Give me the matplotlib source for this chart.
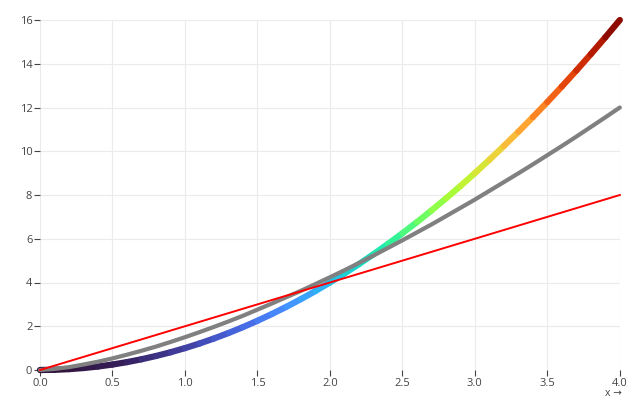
import matplotlib
import numpy as np

matplotlib.use("Agg")

import matplotlib.pyplot as plt
from matplotlib.collections import LineCollection

plt.rcParams["font.family"] = ["Open Sans", "DejaVu Sans"]

# values, x step 0.1
x_vals = [round(0.1 * i, 1) for i in range(41)]
curve_vals = [
    0.00, 0.01, 0.04, 0.09, 0.16, 0.25, 0.36, 0.49, 0.64, 0.81,
    1.00, 1.21, 1.44, 1.69, 1.96, 2.25, 2.56, 2.89, 3.24, 3.61,
    4.00, 4.41, 4.84, 5.29, 5.76, 6.25, 6.76, 7.29, 7.84, 8.41,
    9.00, 9.61, 10.24, 10.89, 11.56, 12.25, 12.96, 13.69, 14.44, 15.21,
    16.00,
]
gray_vals = [
    0.00, 0.05, 0.13, 0.25, 0.38, 0.53, 0.70, 0.88, 1.07, 1.28,
    1.50, 1.73, 1.97, 2.22, 2.48, 2.76, 3.04, 3.33, 3.62, 3.93,
    4.24, 4.56, 4.89, 5.23, 5.58, 5.93, 6.29, 6.65, 7.03, 7.41,
    7.79, 8.19, 8.59, 8.99, 9.40, 9.82, 10.24, 10.67, 11.11, 11.55,
    12.00,
]
red_x = [0.0, 4.0]
red_vals = [0.0, 8.0]

x_ticks = [0.0, 0.5, 1.0, 1.5, 2.0, 2.5, 3.0, 3.5, 4.0]
y_ticks = [0, 2, 4, 6, 8, 10, 12, 14, 16]

fig = plt.figure(figsize=(6.4, 4.0), dpi=100)
ax = fig.add_axes([0.0625, 0.075, 0.906, 0.875])

x = np.array(x_vals)
y = np.array(curve_vals)
points = np.column_stack([x, y]).reshape(-1, 1, 2)
segments = np.concatenate([points[:-1], points[1:]], axis=1)
mid = (y[:-1] + y[1:]) / 2
lc = LineCollection(segments, cmap="turbo", linewidths=4.5, capstyle="round",
                    zorder=2, clip_on=False)
lc.set_array(mid)
lc.set_clim(0, 16)
ax.add_collection(lc)

ax.plot(x_vals, gray_vals, color="#808080", linewidth=3.0, solid_capstyle="round",
        zorder=3, clip_on=False)
ax.plot(red_x, red_vals, color="#ff0000", linewidth=1.4, zorder=4, clip_on=False)

ax.set_xlim(0, 4)
ax.set_ylim(0, 16)
ax.set_xticks(x_ticks)
ax.set_xticklabels([f"{v:.1f}" for v in x_ticks])
ax.set_yticks(y_ticks)
ax.grid(True, color="#ebebeb", linewidth=0.8)
ax.set_axisbelow(True)
for spine in ax.spines.values():
    spine.set_visible(False)
ax.tick_params(colors="#444444", labelsize=8, length=4, width=0.8, pad=1.5)
fig.text(0.971, 0.003, "x \u2192", ha="right", va="bottom", fontsize=7.5, color="#444444")

fig.savefig("out.png", dpi=100)
plt.close(fig)
